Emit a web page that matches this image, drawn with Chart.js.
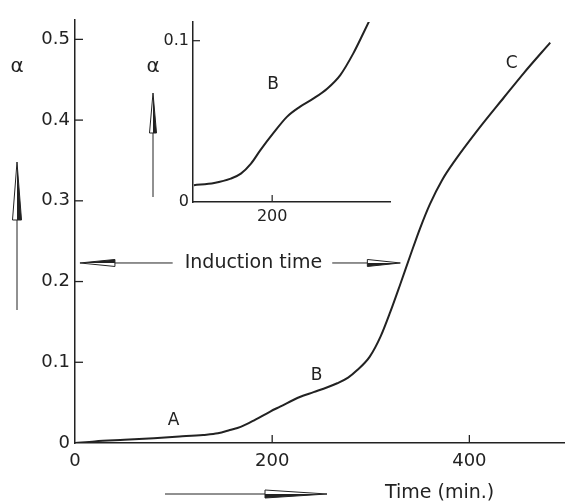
<!DOCTYPE html>
<html>
<head>
<meta charset="utf-8">
<script src="https://cdn.jsdelivr.net/npm/chart.js@4.4.1/dist/chart.umd.min.js"></script>
<style>
  html, body { margin: 0; padding: 0; background: #fff; }
  #wrap { position: relative; width: 565px; height: 503px; }
  #main { position: absolute; left: 0; top: 0; }
  #inset { position: absolute; left: 140px; top: 0; }
</style>
</head>
<body>
<div id="wrap">
  <canvas id="main" width="565" height="503"></canvas>
  <canvas id="inset" width="260" height="230"></canvas>
</div>
<script>
// main curve, alpha vs time (min)
const timeMin = [0, 20, 50, 80, 106, 130, 145, 157, 168, 183, 198, 208, 228, 242, 256, 266, 277, 286, 299, 310, 320, 330, 340, 350, 360, 372, 386, 408, 435, 455, 482];
const alphaMain = [0, 0.002, 0.004, 0.006, 0.008, 0.010, 0.012, 0.016, 0.020, 0.029, 0.039, 0.045, 0.057, 0.063, 0.069, 0.074, 0.081, 0.090, 0.107, 0.132, 0.163, 0.197, 0.232, 0.266, 0.296, 0.325, 0.351, 0.387, 0.428, 0.458, 0.496];

// inset, enlarged start of the curve
const insetTime = [115, 137, 155, 166, 177, 187, 201, 216, 230, 245, 260, 274, 288, 299, 308];
const insetAlpha = [0.0104, 0.0118, 0.0145, 0.0176, 0.0238, 0.032, 0.0425, 0.0528, 0.059, 0.0642, 0.0704, 0.0787, 0.092, 0.1046, 0.1153];

const xTickValues = [0, 200, 400];
const yTickValues = [0, 0.1, 0.2, 0.3, 0.4, 0.5];
const insetXTickValues = [200];
const insetYTickValues = [0, 0.1];

const markText = ['A', 'B', 'C'];
const markTime = [100, 245, 443];
const markAlpha = [0.028, 0.084, 0.470];

const INK = '#222';
const FONT = '"DejaVu Sans", "Liberation Sans", sans-serif';

function toPoints(xs, ys) {
  return xs.map((x, i) => ({ x, y: ys[i] }));
}

function line(ctx, x1, y1, x2, y2) {
  ctx.beginPath();
  ctx.moveTo(x1, y1);
  ctx.lineTo(x2, y2);
  ctx.stroke();
}

// long thin arrow head, one half filled
function arrowHead(ctx, tx, ty, bx, by, hw) {
  const len = Math.hypot(tx - bx, ty - by);
  const nx = -(ty - by) / len * hw, ny = (tx - bx) / len * hw;
  ctx.beginPath();
  ctx.moveTo(tx, ty);
  ctx.lineTo(bx + nx, by + ny);
  ctx.lineTo(bx, by);
  ctx.closePath();
  ctx.fill();
  ctx.beginPath();
  ctx.moveTo(tx, ty);
  ctx.lineTo(bx + nx, by + ny);
  ctx.lineTo(bx - nx, by - ny);
  ctx.closePath();
  ctx.stroke();
}

function axisOpts(min, max, values, size, fmt, pad) {
  return {
    type: 'linear', min, max,
    afterBuildTicks: s => { s.ticks = values.map(v => ({ value: v })); },
    grid: { drawOnChartArea: false, drawTicks: false },
    border: { color: INK, width: 1.5 },
    ticks: { padding: pad, color: INK, font: { family: FONT, size }, callback: fmt }
  };
}

const yFmt = v => (v === 0 ? '0' : v.toFixed(1));

const mainDecor = {
  id: 'mainDecor',
  afterDraw(chart) {
    const { ctx, chartArea: { left, bottom }, scales: { x, y } } = chart;
    ctx.save();
    ctx.strokeStyle = INK;
    ctx.fillStyle = INK;
    ctx.lineWidth = 1.3;
    // inward ticks
    xTickValues.filter(v => v > 0).forEach(v => {
      const px = x.getPixelForValue(v);
      line(ctx, px, bottom, px, bottom - 8);
    });
    yTickValues.filter(v => v > 0).forEach(v => {
      const py = y.getPixelForValue(v);
      line(ctx, left, py, left + 8, py);
    });

    // curve marks
    ctx.font = '17px ' + FONT;
    ctx.textAlign = 'center';
    ctx.textBaseline = 'middle';
    markText.forEach((t, i) => ctx.fillText(t, x.getPixelForValue(markTime[i]), y.getPixelForValue(markAlpha[i])));

    // alpha with upward arrow
    ctx.font = '20px ' + FONT;
    ctx.fillText('\u03b1', 17, 67);
    ctx.lineWidth = 1;
    line(ctx, 17, 220, 17, 310);
    arrowHead(ctx, 17, 162, 17, 220, 4.5);

    // induction time
    const iy = y.getPixelForValue(0.223);
    const xa = x.getPixelForValue(5), xb = x.getPixelForValue(330);
    const xc = x.getPixelForValue(181);
    ctx.font = '19px ' + FONT;
    const w = ctx.measureText('Induction time').width;
    ctx.fillText('Induction time', xc, iy);
    line(ctx, xa + 35, iy, xc - w / 2 - 12, iy);
    line(ctx, xc + w / 2 + 10, iy, xb - 33, iy);
    arrowHead(ctx, xa, iy, xa + 35, iy, 3.5);
    arrowHead(ctx, xb, iy, xb - 33, iy, 3.5);

    // time arrow and axis title
    line(ctx, 165, 494, 265, 494);
    arrowHead(ctx, 327, 494, 265, 494, 4);
    ctx.textAlign = 'left';
    ctx.fillText('Time (min.)', 385, 493);
    ctx.restore();
  }
};

new Chart(document.getElementById('main'), {
  type: 'line',
  data: {
    datasets: [{
      data: toPoints(timeMin, alphaMain),
      borderColor: INK, borderWidth: 2, pointRadius: 0,
      cubicInterpolationMode: 'monotone', fill: false
    }]
  },
  options: {
    responsive: false, animation: false, devicePixelRatio: 1,
    layout: { padding: { top: 20, right: 0, left: 0, bottom: 0 } },
    plugins: { legend: { display: false }, tooltip: { enabled: false } },
    scales: {
      x: { ...axisOpts(0, 497, xTickValues, 18, v => String(v), 8), afterFit: s => { s.height = 60; } },
      y: { ...axisOpts(0, 0.524, yTickValues, 18, yFmt, 5), afterFit: s => { s.width = 75; } }
    }
  },
  plugins: [mainDecor]
});

const insetDecor = {
  id: 'insetDecor',
  afterDraw(chart) {
    const { ctx, chartArea: { left, bottom }, scales: { x, y } } = chart;
    ctx.save();
    ctx.strokeStyle = INK;
    ctx.fillStyle = INK;
    ctx.lineWidth = 1.2;
    insetXTickValues.forEach(v => {
      const px = x.getPixelForValue(v);
      line(ctx, px, bottom, px, bottom - 7);
    });
    insetYTickValues.filter(v => v > 0).forEach(v => {
      const py = y.getPixelForValue(v);
      line(ctx, left, py, left + 7, py);
    });
    ctx.textAlign = 'center';
    ctx.textBaseline = 'middle';
    ctx.font = '17px ' + FONT;
    ctx.fillText('B', x.getPixelForValue(201), y.getPixelForValue(0.0725));
    ctx.font = '20px ' + FONT;
    ctx.fillText('\u03b1', 13, 67);
    ctx.lineWidth = 1;
    line(ctx, 13, 133, 13, 197);
    arrowHead(ctx, 13, 93, 13, 133, 3.5);
    ctx.restore();
  }
};

new Chart(document.getElementById('inset'), {
  type: 'line',
  data: {
    datasets: [{
      data: toPoints(insetTime, insetAlpha),
      borderColor: INK, borderWidth: 2, pointRadius: 0,
      cubicInterpolationMode: 'monotone', fill: false
    }]
  },
  options: {
    responsive: false, animation: false, devicePixelRatio: 1,
    layout: { padding: { top: 22, right: 10, left: 0, bottom: 0 } },
    plugins: { legend: { display: false }, tooltip: { enabled: false } },
    scales: {
      x: { ...axisOpts(114, 328, insetXTickValues, 16, v => String(v), 5), afterFit: s => { s.height = 28; } },
      y: { ...axisOpts(0, 0.1116, insetYTickValues, 16, yFmt, 4), afterFit: s => { s.width = 53; } }
    }
  },
  plugins: [insetDecor]
});
</script>
</body>
</html>
